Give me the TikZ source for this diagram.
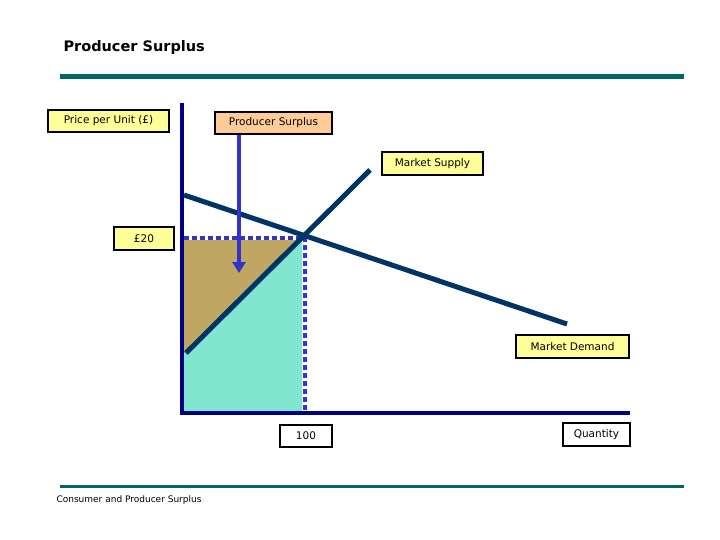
\documentclass[tikz,border=0pt]{standalone}
\usepackage{fontspec}
\setmainfont{DejaVu Sans}
\usetikzlibrary{arrows.meta}
\definecolor{teal1}{HTML}{006666}
\definecolor{navy1}{HTML}{000080}
\definecolor{curve}{HTML}{003366}
\definecolor{dot1}{HTML}{3333CC}
\definecolor{yel}{HTML}{FFFF99}
\definecolor{peach}{HTML}{FFCC99}
\definecolor{brown1}{HTML}{BFA662}
\definecolor{aqua1}{HTML}{80E6D0}
\begin{document}
\begin{tikzpicture}[x=1pt,y=-1pt,
  lbl/.style={draw=black,line width=2.5pt,fill=yel,inner sep=0pt,font=\fontsize{10.5}{12}\selectfont},
]
\useasboundingbox[fill=white] (0,0) rectangle (720,540);
\node[anchor=west,font=\bfseries\fontsize{14.5}{16}\selectfont] (title) at (60,48) {Producer Surplus};
\draw[teal1,line width=5pt] (60,77) -- (684,77);
\draw[teal1,line width=3pt] (60,486) -- (684,486);
\node[anchor=west,font=\fontsize{9}{10}\selectfont] (foot) at (53,500) {Consumer and Producer Surplus};
% areas
\fill[brown1] (184,240) -- (302,240) -- (186,353) -- (184,353) -- cycle;
\fill[aqua1] (186,353) -- (302,240) -- (302,411) -- (184,411) -- (184,353) -- cycle;
% dotted
\coordinate (p0) at (184,238); \coordinate (e) at (305,238); \coordinate (q0) at (305,411);
\draw[dot1,line width=4pt,dash pattern=on 5pt off 3pt] (p0) -- (e) -- (q0);
% axes
\coordinate (o) at (182,413); \coordinate (ytop) at (182,103); \coordinate (xend) at (630,413);
\draw[navy1,line width=4pt] (ytop) -- (o) -- (xend);
% curves
\coordinate (d1) at (184,195); \coordinate (d2) at (567,324);
\coordinate (s1) at (186,353); \coordinate (s2) at (370,170);
\draw[curve,line width=5pt] (d1) -- (d2);
\draw[curve,line width=5pt] (s1) -- (s2);
% labels
\node[lbl,minimum width=121pt,minimum height=22pt] (price) at (108.5,121) {Price per Unit (£)};
\node[lbl,fill=peach,minimum width=117pt,minimum height=22pt] (ps) at (273.5,123) {Producer Surplus};
\node[lbl,minimum width=101pt,minimum height=23pt] (ms) at (432.5,163.5) {Market Supply};
\node[lbl,minimum width=60pt,minimum height=23pt] (p20) at (144,238.5) {£20};
\node[lbl,minimum width=113pt,minimum height=23pt] (md) at (572.5,346.5) {Market Demand};
\node[lbl,fill=white,minimum width=52pt,minimum height=22pt] (q100) at (306,436) {100};
\node[lbl,fill=white,minimum width=67pt,minimum height=23pt] (qty) at (596.5,434.5) {Quantity};
\coordinate (tip) at (239,273);
\draw[dot1,line width=4pt,-{Triangle[length=11pt,width=13pt]}] (ps.south -| tip) -- (tip);
\end{tikzpicture}
\end{document}
